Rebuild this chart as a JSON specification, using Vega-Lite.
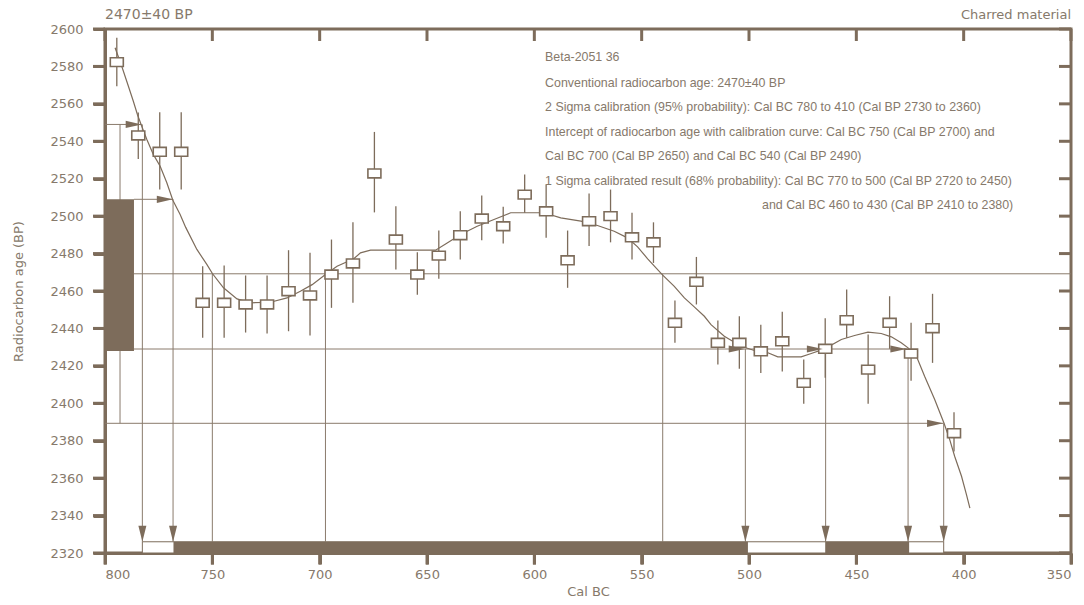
{
  "$schema": "https://vega.github.io/schema/vega-lite/v6.json",
  "width": 966,
  "height": 524,
  "autosize": {"type": "none"},
  "padding": {"left": 105, "top": 29, "right": 13, "bottom": 52},
  "background": "white",
  "config": {
    "view": {"stroke": "#7d6c5b", "strokeWidth": 3},
    "axis": {
      "grid": false,
      "ticks": true,
      "tickColor": "#7d6c5b",
      "tickWidth": 3,
      "tickOpacity": 1,
      "domainColor": "#7d6c5b",
      "domainWidth": 3,
      "labelFont": "DejaVu Sans",
      "labelFontSize": 13,
      "labelColor": "#86796b",
      "titleFont": "DejaVu Sans",
      "titleFontSize": 13,
      "titleFontWeight": "normal",
      "titleColor": "#86796b"
    }
  },
  "datasets": {
    "xticks": [{"v": 800}, {"v": 750}, {"v": 700}, {"v": 650}, {"v": 600}, {"v": 550}, {"v": 500}, {"v": 450}, {"v": 400}, {"v": 350}],
    "yticks": [{"v": 2320}, {"v": 2340}, {"v": 2360}, {"v": 2380}, {"v": 2400}, {"v": 2420}, {"v": 2440}, {"v": 2460}, {"v": 2480}, {"v": 2500}, {"v": 2520}, {"v": 2540}, {"v": 2560}, {"v": 2580}, {"v": 2600}],
    "pts": [
      {"x": 794.5, "y": 2582.3, "lo": 2569.4, "hi": 2595.3},
      {"x": 784.5, "y": 2543.1, "lo": 2530.6, "hi": 2555.4},
      {"x": 774.5, "y": 2534.4, "lo": 2514.2, "hi": 2555.5},
      {"x": 764.5, "y": 2534.4, "lo": 2514.2, "hi": 2555.5},
      {"x": 754.5, "y": 2453.7, "lo": 2435.0, "hi": 2473.2},
      {"x": 744.5, "y": 2453.7, "lo": 2435.0, "hi": 2473.6},
      {"x": 734.5, "y": 2452.8, "lo": 2437.8, "hi": 2468.3},
      {"x": 724.5, "y": 2452.8, "lo": 2437.3, "hi": 2468.3},
      {"x": 714.5, "y": 2459.9, "lo": 2438.5, "hi": 2481.8},
      {"x": 704.5, "y": 2457.6, "lo": 2436.2, "hi": 2480.4},
      {"x": 694.5, "y": 2468.8, "lo": 2451.0, "hi": 2487.5},
      {"x": 684.5, "y": 2474.7, "lo": 2453.7, "hi": 2496.7},
      {"x": 674.5, "y": 2522.8, "lo": 2502.0, "hi": 2545.0},
      {"x": 664.5, "y": 2487.5, "lo": 2471.5, "hi": 2505.3},
      {"x": 654.5, "y": 2468.8, "lo": 2458.0, "hi": 2480.7},
      {"x": 644.5, "y": 2478.9, "lo": 2466.5, "hi": 2492.3},
      {"x": 634.5, "y": 2489.8, "lo": 2476.8, "hi": 2502.6},
      {"x": 624.5, "y": 2498.7, "lo": 2487.1, "hi": 2511.0},
      {"x": 614.5, "y": 2494.6, "lo": 2485.4, "hi": 2505.0},
      {"x": 604.5, "y": 2511.5, "lo": 2501.8, "hi": 2522.2},
      {"x": 594.5, "y": 2502.6, "lo": 2488.4, "hi": 2516.9},
      {"x": 584.5, "y": 2476.4, "lo": 2461.7, "hi": 2492.3},
      {"x": 574.5, "y": 2497.3, "lo": 2484.0, "hi": 2512.1},
      {"x": 564.5, "y": 2500.0, "lo": 2486.0, "hi": 2514.2},
      {"x": 554.5, "y": 2488.7, "lo": 2476.8, "hi": 2501.8},
      {"x": 544.5, "y": 2486.0, "lo": 2475.0, "hi": 2496.7},
      {"x": 534.5, "y": 2443.0, "lo": 2432.3, "hi": 2454.9},
      {"x": 524.5, "y": 2464.9, "lo": 2452.8, "hi": 2478.2},
      {"x": 514.5, "y": 2432.3, "lo": 2420.7, "hi": 2444.2},
      {"x": 504.5, "y": 2432.3, "lo": 2418.4, "hi": 2446.5},
      {"x": 494.5, "y": 2427.8, "lo": 2416.2, "hi": 2441.9},
      {"x": 484.5, "y": 2433.1, "lo": 2417.0, "hi": 2448.9},
      {"x": 474.5, "y": 2410.9, "lo": 2399.7, "hi": 2423.4},
      {"x": 464.5, "y": 2429.1, "lo": 2413.6, "hi": 2445.4},
      {"x": 454.5, "y": 2444.4, "lo": 2435.0, "hi": 2460.8},
      {"x": 444.5, "y": 2418.0, "lo": 2399.7, "hi": 2436.7},
      {"x": 434.5, "y": 2443.0, "lo": 2429.1, "hi": 2457.2},
      {"x": 424.5, "y": 2426.6, "lo": 2412.1, "hi": 2443.0},
      {"x": 414.5, "y": 2440.1, "lo": 2421.6, "hi": 2458.5},
      {"x": 404.5, "y": 2384.0, "lo": 2374.3, "hi": 2395.2}
    ],
    "curve": [
      {"x": 795.3, "y": 2590.0}, {"x": 792.2, "y": 2580.1}, {"x": 789.1, "y": 2569.4},
      {"x": 786.8, "y": 2561.4}, {"x": 784.9, "y": 2554.3}, {"x": 782.9, "y": 2548.0},
      {"x": 780.5, "y": 2541.0}, {"x": 777.5, "y": 2533.0}, {"x": 774.3, "y": 2526.7},
      {"x": 771.2, "y": 2517.8}, {"x": 768.4, "y": 2508.5}, {"x": 765.0, "y": 2500.9},
      {"x": 762.4, "y": 2494.0}, {"x": 757.2, "y": 2482.2}, {"x": 752.5, "y": 2474.1},
      {"x": 749.9, "y": 2469.2}, {"x": 744.8, "y": 2461.7}, {"x": 738.5, "y": 2455.8},
      {"x": 732.3, "y": 2453.7}, {"x": 723.0, "y": 2454.0}, {"x": 715.2, "y": 2456.3},
      {"x": 709.0, "y": 2459.9}, {"x": 703.5, "y": 2463.4}, {"x": 697.3, "y": 2468.8},
      {"x": 691.9, "y": 2473.2}, {"x": 684.1, "y": 2477.2}, {"x": 681.0, "y": 2480.4},
      {"x": 676.3, "y": 2481.8}, {"x": 667.0, "y": 2481.8}, {"x": 646.0, "y": 2481.8},
      {"x": 640.6, "y": 2485.7}, {"x": 634.3, "y": 2490.2}, {"x": 626.6, "y": 2494.6},
      {"x": 618.8, "y": 2498.2}, {"x": 611.0, "y": 2501.8}, {"x": 595.5, "y": 2501.8},
      {"x": 587.7, "y": 2499.1}, {"x": 578.3, "y": 2497.3}, {"x": 570.6, "y": 2495.0},
      {"x": 562.8, "y": 2491.9}, {"x": 556.6, "y": 2488.4}, {"x": 551.9, "y": 2483.6},
      {"x": 547.2, "y": 2477.2}, {"x": 540.2, "y": 2468.5}, {"x": 534.8, "y": 2462.5},
      {"x": 530.1, "y": 2456.3}, {"x": 525.5, "y": 2451.5}, {"x": 520.8, "y": 2446.5},
      {"x": 517.7, "y": 2442.0}, {"x": 511.5, "y": 2435.8}, {"x": 503.7, "y": 2430.5},
      {"x": 497.5, "y": 2428.2}, {"x": 491.2, "y": 2427.0}, {"x": 486.6, "y": 2424.8},
      {"x": 475.7, "y": 2424.8}, {"x": 471.0, "y": 2426.6}, {"x": 464.8, "y": 2429.1},
      {"x": 457.0, "y": 2434.1}, {"x": 450.8, "y": 2436.2}, {"x": 444.6, "y": 2438.0},
      {"x": 438.4, "y": 2437.3}, {"x": 433.7, "y": 2435.5}, {"x": 429.1, "y": 2432.3},
      {"x": 425.9, "y": 2429.6}, {"x": 422.0, "y": 2425.1}, {"x": 418.2, "y": 2414.4},
      {"x": 413.5, "y": 2402.0}, {"x": 409.1, "y": 2389.2}, {"x": 406.5, "y": 2380.6},
      {"x": 404.2, "y": 2371.7}, {"x": 401.0, "y": 2361.0}, {"x": 398.7, "y": 2351.2},
      {"x": 397.1, "y": 2344.0}
    ],
    "hlines": [
      {"x": 800, "x2": 782.9, "y": 2549},
      {"x": 786.5, "x2": 768.4, "y": 2509},
      {"x": 786.5, "x2": 350, "y": 2469.2},
      {"x": 786.5, "x2": 426.7, "y": 2429},
      {"x": 800, "x2": 409.6, "y": 2389.3}
    ],
    "vlines": [
      {"x": 793, "y": 2549, "y2": 2389.3},
      {"x": 782.6, "y": 2549, "y2": 2326},
      {"x": 768.3, "y": 2509, "y2": 2326},
      {"x": 750, "y": 2469.2, "y2": 2326},
      {"x": 697.3, "y": 2469.2, "y2": 2326},
      {"x": 540.2, "y": 2469.2, "y2": 2326},
      {"x": 501.7, "y": 2429, "y2": 2326},
      {"x": 464.3, "y": 2429, "y2": 2326},
      {"x": 425.9, "y": 2429, "y2": 2326},
      {"x": 409.3, "y": 2389.3, "y2": 2326}
    ],
    "fillrects": [
      {"x": 800, "x2": 786.5, "y": 2428, "y2": 2509},
      {"x": 768.1, "x2": 500.5, "y": 2320, "y2": 2326},
      {"x": 464.5, "x2": 425.4, "y": 2320, "y2": 2326}
    ],
    "outlinerects": [
      {"x": 782.6, "x2": 409.3, "y": 2320, "y2": 2326}
    ],
    "arrowsR": [
      {"x": 782.9, "y": 2549},
      {"x": 768.4, "y": 2509},
      {"x": 502.0, "y": 2429},
      {"x": 465.6, "y": 2429},
      {"x": 426.7, "y": 2429},
      {"x": 409.6, "y": 2389.3}
    ],
    "arrowsD": [
      {"x": 782.6, "y": 2326},
      {"x": 768.3, "y": 2326},
      {"x": 501.7, "y": 2326},
      {"x": 464.3, "y": 2326},
      {"x": 425.9, "y": 2326},
      {"x": 409.3, "y": 2326}
    ],
    "notes": [
      {"x": 595, "y": 2584.8, "t": "Beta-2051 36"},
      {"x": 595, "y": 2571.4, "t": "Conventional radiocarbon age: 2470±40 BP"},
      {"x": 595, "y": 2558.5, "t": "2 Sigma calibration (95% probability): Cal BC 780 to 410 (Cal BP 2730 to 2360)"},
      {"x": 595, "y": 2545.2, "t": "Intercept of radiocarbon age with calibration curve: Cal BC 750 (Cal BP 2700) and"},
      {"x": 595, "y": 2532.0, "t": "Cal BC 700 (Cal BP 2650) and Cal BC 540 (Cal BP 2490)"},
      {"x": 595, "y": 2518.7, "t": "1 Sigma calibrated result (68% probability): Cal BC 770 to 500 (Cal BP 2720 to 2450)"}
    ],
    "notesR": [
      {"x": 376.9, "y": 2505.8, "t": "and Cal BC 460 to 430 (Cal BP 2410 to 2380)"}
    ],
    "headL": [{"x": 800, "y": 2607.3, "t": "2470±40 BP"}],
    "headR": [{"x": 350, "y": 2607.3, "t": "Charred material"}]
  },
  "encoding": {
    "x": {"type": "quantitative", "title": "Cal BC",
          "scale": {"domain": [800, 350], "nice": false, "zero": false},
          "axis": {"orient": "bottom", "format": "d", "values": [800, 750, 700, 650, 600, 550, 500, 450, 400, 350], "tickSize": 11, "labelPadding": 4, "titlePadding": 4}},
    "y": {"type": "quantitative", "title": "Radiocarbon age (BP)",
          "scale": {"domain": [2320, 2600], "nice": false, "zero": false},
          "axis": {"orient": "left", "format": "d", "values": [2320, 2340, 2360, 2380, 2400, 2420, 2440, 2460, 2480, 2500, 2520, 2540, 2560, 2580, 2600], "tickSize": 12, "labelPadding": 10, "titlePadding": 24}}
  },
  "layer": [
    {
      "data": {"name": "hlines"},
      "mark": {"type": "rule", "color": "#8a7b6c", "strokeWidth": 1},
      "encoding": {
        "x": {"field": "x", "type": "quantitative"},
        "x2": {"field": "x2"},
        "y": {"field": "y", "type": "quantitative"}
      }
    },
    {
      "data": {"name": "vlines"},
      "mark": {"type": "rule", "color": "#8a7b6c", "strokeWidth": 1},
      "encoding": {
        "x": {"field": "x", "type": "quantitative"},
        "y": {"field": "y", "type": "quantitative"},
        "y2": {"field": "y2"}
      }
    },
    {
      "data": {"name": "curve"},
      "mark": {"type": "line", "color": "#7d6c5b", "strokeWidth": 1.2},
      "encoding": {
        "x": {"field": "x", "type": "quantitative"},
        "y": {"field": "y", "type": "quantitative"}
      }
    },
    {
      "data": {"name": "pts"},
      "mark": {"type": "rule", "color": "#7d6c5b", "strokeWidth": 1.3},
      "encoding": {
        "x": {"field": "x", "type": "quantitative"},
        "y": {"field": "lo", "type": "quantitative"},
        "y2": {"field": "hi"}
      }
    },
    {
      "data": {"name": "pts"},
      "mark": {"type": "point", "shape": "M-1,-0.68L1,-0.68L1,0.68L-1,0.68Z", "size": 169, "filled": true, "fill": "white", "stroke": "#7d6c5b", "strokeWidth": 1.6, "opacity": 1},
      "encoding": {
        "x": {"field": "x", "type": "quantitative"},
        "y": {"field": "y", "type": "quantitative"}
      }
    },
    {
      "data": {"name": "outlinerects"},
      "mark": {"type": "rect", "fill": "white", "stroke": "#7d6c5b", "strokeWidth": 1},
      "encoding": {
        "x": {"field": "x", "type": "quantitative"},
        "x2": {"field": "x2"},
        "y": {"field": "y", "type": "quantitative"},
        "y2": {"field": "y2"}
      }
    },
    {
      "data": {"name": "fillrects"},
      "mark": {"type": "rect", "fill": "#7d6c5b", "stroke": null},
      "encoding": {
        "x": {"field": "x", "type": "quantitative"},
        "x2": {"field": "x2"},
        "y": {"field": "y", "type": "quantitative"},
        "y2": {"field": "y2"}
      }
    },
    {
      "data": {"name": "arrowsR"},
      "mark": {"type": "point", "shape": "M-2,-0.45L0,0L-2,0.45Z", "size": 256, "filled": true, "fill": "#7d6c5b", "stroke": null, "opacity": 1},
      "encoding": {
        "x": {"field": "x", "type": "quantitative"},
        "y": {"field": "y", "type": "quantitative"}
      }
    },
    {
      "data": {"name": "arrowsD"},
      "mark": {"type": "point", "shape": "M-0.5,-2L0.5,-2L0,0Z", "size": 256, "filled": true, "fill": "#7d6c5b", "stroke": null, "opacity": 1},
      "encoding": {
        "x": {"field": "x", "type": "quantitative"},
        "y": {"field": "y", "type": "quantitative"}
      }
    },
    {
      "data": {"name": "xticks"},
      "mark": {"type": "tick", "orient": "vertical", "size": 11, "thickness": 3, "color": "#7d6c5b", "opacity": 1, "yOffset": 6, "clip": false},
      "encoding": {
        "x": {"field": "v", "type": "quantitative"},
        "y": {"datum": 2320, "type": "quantitative"}
      }
    },
    {
      "data": {"name": "xticks"},
      "mark": {"type": "tick", "orient": "vertical", "size": 12, "thickness": 3, "color": "#7d6c5b", "opacity": 1, "yOffset": 6, "clip": false},
      "encoding": {
        "x": {"field": "v", "type": "quantitative"},
        "y": {"datum": 2600, "type": "quantitative"}
      }
    },
    {
      "data": {"name": "yticks"},
      "mark": {"type": "tick", "orient": "horizontal", "size": 12, "thickness": 3, "color": "#7d6c5b", "opacity": 1, "xOffset": -6, "clip": false},
      "encoding": {
        "x": {"datum": 800, "type": "quantitative"},
        "y": {"field": "v", "type": "quantitative"}
      }
    },
    {
      "data": {"name": "yticks"},
      "mark": {"type": "tick", "orient": "horizontal", "size": 12, "thickness": 3, "color": "#7d6c5b", "opacity": 1, "xOffset": -6, "clip": false},
      "encoding": {
        "x": {"datum": 350, "type": "quantitative"},
        "y": {"field": "v", "type": "quantitative"}
      }
    },
    {
      "data": {"name": "notes"},
      "mark": {"type": "text", "align": "left", "baseline": "middle", "font": "Liberation Sans", "fontSize": 12.4, "color": "#86796b"},
      "encoding": {
        "x": {"field": "x", "type": "quantitative"},
        "y": {"field": "y", "type": "quantitative"},
        "text": {"field": "t"}
      }
    },
    {
      "data": {"name": "notesR"},
      "mark": {"type": "text", "align": "right", "baseline": "middle", "font": "Liberation Sans", "fontSize": 12.4, "color": "#86796b"},
      "encoding": {
        "x": {"field": "x", "type": "quantitative"},
        "y": {"field": "y", "type": "quantitative"},
        "text": {"field": "t"}
      }
    },
    {
      "data": {"name": "headL"},
      "mark": {"type": "text", "align": "left", "baseline": "middle", "font": "DejaVu Sans", "fontSize": 14, "color": "#86796b"},
      "encoding": {
        "x": {"field": "x", "type": "quantitative"},
        "y": {"field": "y", "type": "quantitative"},
        "text": {"field": "t"}
      }
    },
    {
      "data": {"name": "headR"},
      "mark": {"type": "text", "align": "right", "baseline": "middle", "font": "DejaVu Sans", "fontSize": 13, "color": "#86796b"},
      "encoding": {
        "x": {"field": "x", "type": "quantitative"},
        "y": {"field": "y", "type": "quantitative"},
        "text": {"field": "t"}
      }
    }
  ]
}
